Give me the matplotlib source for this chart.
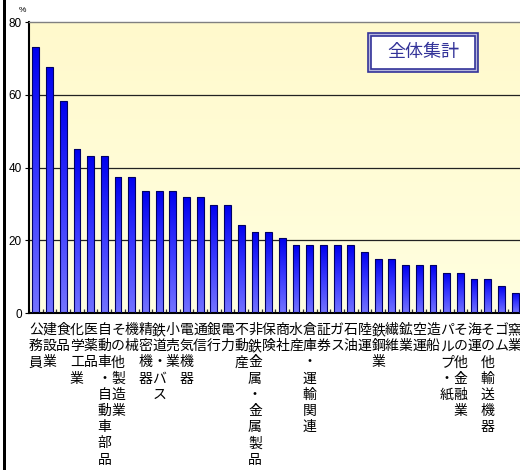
import numpy as np
import matplotlib
matplotlib.use("Agg")
import matplotlib.pyplot as plt
from matplotlib.colors import LinearSegmentedColormap
from matplotlib.patches import Rectangle

plt.rcParams['font.family'] = ['Noto Sans CJK JP', 'DejaVu Sans']

# data
categories = ['公務員', '建設業', '食品', '化学工業', '医薬品', '自動車・自動車部品',
              'その他製造業', '機械', '精密機器', '鉄道・バス', '小売業', '電気機器',
              '通信', '銀行', '電力', '不動産', '非鉄金属・金属製品', '保険', '商社',
              '水産', '倉庫・運輸関連', '証券', 'ガス', '石油', '陸運', '鉄鋼業',
              '繊維', '鉱業', '空運', '造船', 'パルプ・紙', 'その他金融業', '海運',
              'その他輸送機器', 'ゴム', '窯業']
values = [73.2, 67.7, 58.2, 45.2, 43.2, 43.2, 37.4, 37.4, 33.6, 33.6, 33.6, 31.8,
          31.8, 29.8, 29.8, 24.3, 22.4, 22.4, 20.6, 18.6, 18.6, 18.6, 18.6, 18.6,
          16.9, 14.9, 14.9, 13.1, 13.1, 13.1, 11.0, 11.0, 9.4, 9.4, 7.4, 5.6]
yticks = [0, 20, 40, 60, 80]
title_box = '全体集計'

W, H = 520, 470
fig = plt.figure(figsize=(W / 100, H / 100), dpi=100)
fig.patch.set_facecolor('white')

# axes placed in pixel terms
L, R, T, B = 29, 522, 22, 313
ax = fig.add_axes([L / W, 1 - B / H, (R - L) / W, (B - T) / H])
ax.set_xlim(-0.5, len(categories) - 0.5)
ax.set_ylim(0, 80)

# plot area background gradient (pale yellow)
bg_cmap = LinearSegmentedColormap.from_list('bg', ['#FFF9CC', '#FFFFE0'])
grad = np.linspace(0, 1, 256).reshape(-1, 1)
ax.imshow(grad, extent=[0, 1, 0, 1], transform=ax.transAxes, cmap=bg_cmap,
          aspect='auto', zorder=0, origin='upper')

# grid lines
for v in [20, 40, 60]:
    ax.axhline(v, color='#222222', lw=0.9, zorder=1)

# bars with a vertical blue gradient
bar_cmap = LinearSegmentedColormap.from_list('bar', ['#0000EE', '#3A3AFF', '#7474FF'])
x = np.arange(len(categories))
bars = ax.bar(x, values, width=0.5, color='none', edgecolor='#000066',
              linewidth=0.8, zorder=3)
for b in bars:
    x0, w, h = b.get_x(), b.get_width(), b.get_height()
    im = ax.imshow(grad, extent=[x0, x0 + w, 0, h], cmap=bar_cmap,
                   aspect='auto', zorder=2, origin='upper')
    im.set_clip_path(b)

# spines and ticks
ax.spines['right'].set_visible(False)
ax.spines['top'].set_color('#808080')
ax.spines['top'].set_linewidth(1.0)
ax.spines['left'].set_color('black')
ax.spines['left'].set_linewidth(1.5)
ax.spines['bottom'].set_color('black')
ax.spines['bottom'].set_linewidth(1.5)

ax.set_yticks(yticks)
ax.set_yticklabels([str(v) for v in yticks], fontfamily='Liberation Sans',
                   fontsize=8.5)
ax.tick_params(axis='y', length=3, width=0.8, pad=2)
ax.set_xticks(x)
ax.set_xticklabels([])
ax.tick_params(axis='x', length=0)
ax.set_xticks(np.arange(len(categories) + 1) - 0.5, minor=True)
ax.tick_params(axis='x', which='minor', direction='in', length=3, width=0.9,
               color='#333333')

# vertical category labels
for i, c in enumerate(categories):
    ax.annotate('\n'.join(c), xy=(i, 0), xycoords=('data', 'axes fraction'),
                xytext=(-1 if i == len(categories) - 1 else 0, -10),
                textcoords='offset pixels', ha='center',
                va='top', fontsize=10, linespacing=1.2, color='black',
                annotation_clip=False)

# percent sign
fig.text(22 / W, 1 - 11 / H, '%', fontsize=6, fontfamily='Liberation Sans',
         ha='center', va='center')

# outer black line on the left edge
fig.add_artist(Rectangle((3 / W, 0), 2.5 / W, 1, transform=fig.transFigure,
                         facecolor='black', edgecolor='none'))

# title box with double border
bx0, by0, bx1, by1 = 368, 33, 478, 72
fig.add_artist(Rectangle((bx0 / W, 1 - by1 / H), (bx1 - bx0) / W, (by1 - by0) / H,
                         transform=fig.transFigure, facecolor='#B8B8DC',
                         edgecolor='#333399', linewidth=1.2, zorder=5))
fig.add_artist(Rectangle(((bx0 + 3) / W, 1 - (by1 - 3) / H), (bx1 - bx0 - 6) / W,
                         (by1 - by0 - 6) / H, transform=fig.transFigure,
                         facecolor='white', edgecolor='#333399', linewidth=1.2,
                         zorder=6))
fig.text((bx0 + bx1) / 2 / W, 1 - (by0 + by1) / 2 / H, title_box, fontsize=13,
         color='#333399', ha='center', va='center', zorder=7)

fig.savefig('out.png', dpi=100)
